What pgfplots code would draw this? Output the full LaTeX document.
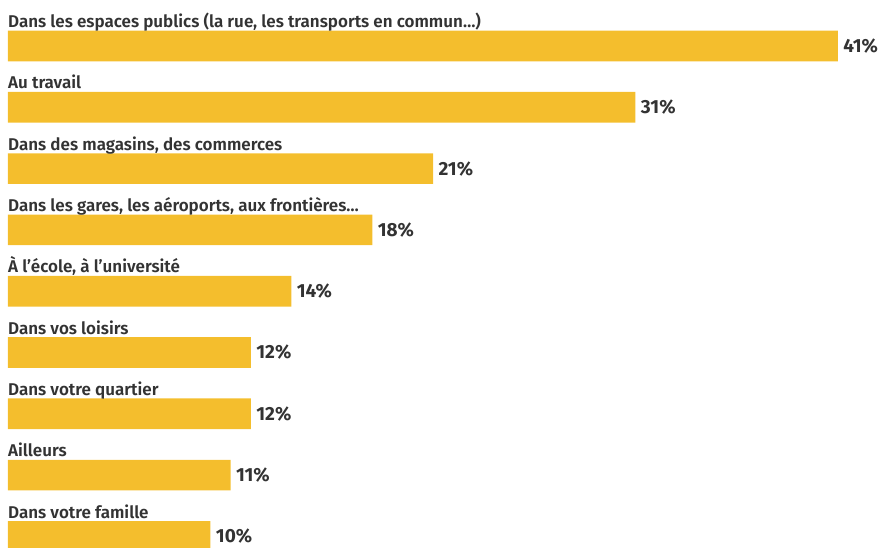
\documentclass[border=0pt]{standalone}
\usepackage{fontspec}
\setmainfont{Fira Sans}[BoldFont={Fira Sans SemiBold}]
\newfontfamily\valfont{Fira Sans Bold}
\usepackage{pgfplots}
\pgfplotsset{compat=1.18}
\definecolor{barcol}{HTML}{F4BE2D}
\definecolor{txt}{HTML}{333333}
\tikzset{lab/.style={anchor=base west, inner sep=0pt, font=\fontsize{17}{17}\selectfont\bfseries, text=txt}}
\begin{document}
\begin{tikzpicture}
\begin{axis}[
    xbar,
    scale only axis,
    width=884pt, height=547pt,
    xmin=-0.395, xmax=43.28,
    ymin=-8.173, ymax=0.75,
    hide axis,
    bar width=0.5,
    bar shift=0pt,
    clip=true,
    nodes near coords={\pgfmathprintnumber{\pgfplotspointmeta}\%},
    every node near coord/.append style={font=\fontsize{19}{19}\valfont, text=txt, anchor=west, xshift=2pt},
    /pgf/number format/assume math mode=true,
]
\addplot[fill=barcol, draw=none] coordinates {
    (41,0) (31,-1) (21,-2) (18,-3) (14,-4) (12,-5) (12,-6) (11,-7) (10,-8)
};
\node[lab] at (axis cs:0,0.3)  {Dans les espaces publics (la rue, les transports en commun…)};
\node[lab] at (axis cs:0,-0.7) {Au travail};
\node[lab] at (axis cs:0,-1.7) {Dans des magasins, des commerces};
\node[lab] at (axis cs:0,-2.7) {Dans les gares, les aéroports, aux frontières…};
\node[lab] at (axis cs:0,-3.7) {À l’école, à l’université};
\node[lab] at (axis cs:0,-4.7) {Dans vos loisirs};
\node[lab] at (axis cs:0,-5.7) {Dans votre quartier};
\node[lab] at (axis cs:0,-6.7) {Ailleurs};
\node[lab] at (axis cs:0,-7.7) {Dans votre famille};
\end{axis}
\pgfresetboundingbox
\useasboundingbox (current axis.south west) rectangle (current axis.north east);
\end{tikzpicture}
\end{document}
